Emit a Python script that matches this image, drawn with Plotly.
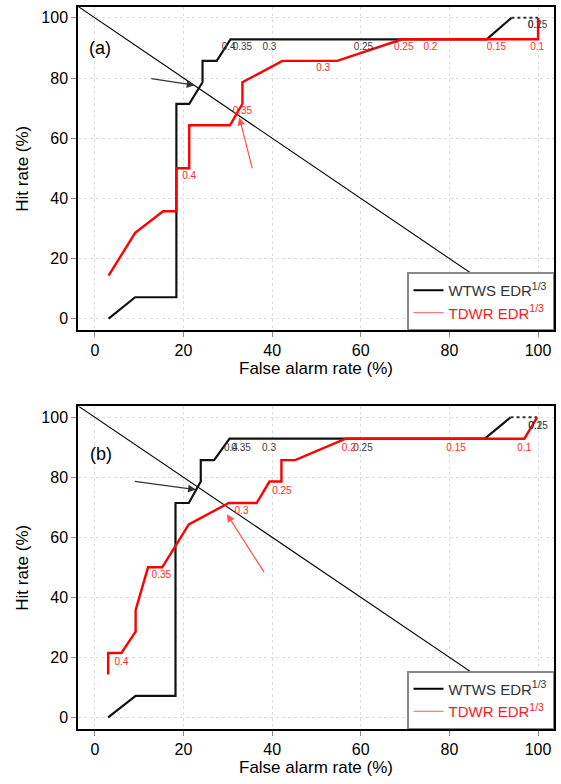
import plotly.graph_objects as go
from plotly.subplots import make_subplots

# ---------------- data: panel (a) ----------------
wtws_a_x = [3.1, 9.1, 18.4, 18.4, 21.3, 24.3, 24.3, 27.5, 30.6, 88.4, 94.0, 100.0]
wtws_a_y = [0, 7.14, 7.14, 71.43, 71.43, 78.57, 85.71, 85.71, 92.86, 92.86, 100, 100]
tdwr_a_x = [3.1, 9.1, 15.4, 18.4, 18.4, 21.3, 21.3, 30.5, 33.3, 33.3, 42.3, 54.7, 69.3, 100.0, 100.0]
tdwr_a_y = [14.29, 28.57, 35.71, 35.71, 50, 50, 64.29, 64.29, 71.43, 78.57, 85.71, 85.71, 92.86, 92.86, 100]

wtws_a_lbl = ["0.4", "0.35", "0.3", "0.25", "0.2", "0.15"]
wtws_a_lx = [30.2, 33.3, 39.4, 60.6, 99.3, 99.9]
wtws_a_ly = [90.2, 90.2, 90.2, 90.2, 97.3, 97.3]
tdwr_a_lbl = ["0.4", "0.35", "0.3", "0.25", "0.2", "0.15", "0.1"]
tdwr_a_lx = [21.3, 33.3, 51.5, 69.7, 75.7, 90.6, 99.8]
tdwr_a_ly = [47.3, 68.8, 83.0, 90.2, 90.2, 90.2, 90.2]

# arrows: [head_x, head_y, tail_x, tail_y]
arrow_wtws_a = [22.5, 77.6, 12.4, 79.9]
arrow_tdwr_a = [32.6, 66.9, 35.6, 49.5]

# ---------------- data: panel (b) ----------------
wtws_b_x = [3.0, 9.2, 18.2, 18.2, 21.2, 23.9, 23.9, 26.9, 30.4, 88.0, 93.8, 99.8]
wtws_b_y = [0, 7.14, 7.14, 71.43, 71.43, 78.57, 85.71, 85.71, 92.86, 92.86, 100, 100]
tdwr_b_x = [3.0, 3.0, 6.0, 9.2, 9.2, 12.0, 15.2, 21.2, 30.2, 36.5, 39.4, 42.1, 42.1, 45.2, 56.6, 96.9, 99.8]
tdwr_b_y = [14.29, 21.43, 21.43, 28.57, 35.71, 50, 50, 64.29, 71.43, 71.43, 78.57, 78.57, 85.71, 85.71, 92.86, 92.86, 100]

wtws_b_lbl = ["0.4", "0.35", "0.3", "0.25", "0.2", "0.15"]
wtws_b_lx = [30.7, 33.0, 39.3, 60.5, 99.4, 100.0]
wtws_b_ly = [89.6, 89.6, 89.6, 89.6, 97.0, 97.0]
tdwr_b_lbl = ["0.4", "0.35", "0.3", "0.25", "0.2", "0.15", "0.1"]
tdwr_b_lx = [6.0, 15.0, 33.1, 42.2, 57.3, 81.5, 96.9]
tdwr_b_ly = [18.4, 47.1, 68.7, 75.4, 89.6, 89.6, 89.6]

arrow_wtws_b = [22.8, 75.9, 8.65, 78.7]
arrow_tdwr_b = [29.8, 67.7, 38.4, 47.9]

# no-skill diagonal (hit rate = 100 - false alarm rate)
diag_x = [-4, 104]
diag_y = [100 - v for v in diag_x]

ticks = [0, 20, 40, 60, 80, 100]
panel_labels = ["(a)", "(b)"]
panel_label_pos = [(1.1, 90.1), (1.3, 87.7)]

BLACK = "#111111"
RED = "#ff0000"
FONT = "Liberation Sans, Arial, sans-serif"

fig = make_subplots(rows=2, cols=1, vertical_spacing=0.1)

panels = [
    (wtws_a_x, wtws_a_y, tdwr_a_x, tdwr_a_y, wtws_a_lbl, wtws_a_lx, wtws_a_ly,
     tdwr_a_lbl, tdwr_a_lx, tdwr_a_ly, arrow_wtws_a, arrow_tdwr_a),
    (wtws_b_x, wtws_b_y, tdwr_b_x, tdwr_b_y, wtws_b_lbl, wtws_b_lx, wtws_b_ly,
     tdwr_b_lbl, tdwr_b_lx, tdwr_b_ly, arrow_wtws_b, arrow_tdwr_b),
]

for i, p in enumerate(panels):
    row = i + 1
    (wx, wy, tx, ty, wl, wlx, wly, tl, tlx, tly, aw, at) = p
    leg = "legend" if i == 0 else "legend2"
    fig.add_trace(go.Scatter(x=diag_x, y=diag_y, mode="lines",
                             line=dict(color="black", width=1.1),
                             showlegend=False, hoverinfo="skip"), row=row, col=1)
    fig.add_trace(go.Scatter(x=wx[:-1], y=wy[:-1], mode="lines",
                             line=dict(color=BLACK, width=2.2),
                             showlegend=False), row=row, col=1)
    fig.add_trace(go.Scatter(x=wx[-2:], y=wy[-2:], mode="lines",
                             line=dict(color="#333333", width=2, dash="dot"),
                             showlegend=False), row=row, col=1)
    fig.add_trace(go.Scatter(x=tx, y=ty, mode="lines",
                             line=dict(color=RED, width=2.4),
                             showlegend=False), row=row, col=1)
    fig.add_trace(go.Scatter(x=wlx, y=wly, text=wl, mode="text",
                             textfont=dict(color="#3a3a3a", size=10, family=FONT),
                             showlegend=False), row=row, col=1)
    fig.add_trace(go.Scatter(x=tlx, y=tly, text=tl, mode="text",
                             textfont=dict(color="#ff2a2a", size=10, family=FONT),
                             showlegend=False), row=row, col=1)
    # legend entries
    fig.add_trace(go.Scatter(x=[None], y=[None], mode="lines",
                             line=dict(color="black", width=2),
                             name='<span style="color:#333333">WTWS EDR<sup>1/3</sup></span>',
                             legend=leg), row=row, col=1)
    fig.add_trace(go.Scatter(x=[None], y=[None], mode="lines",
                             line=dict(color="#ff5555", width=1),
                             name='<span style="color:#ff1a1a">TDWR EDR<sup>1/3</sup></span>',
                             legend=leg), row=row, col=1)
    xr = "x" if i == 0 else "x2"
    yr = "y" if i == 0 else "y2"
    fig.add_annotation(x=aw[0], y=aw[1], ax=aw[2], ay=aw[3], xref=xr, yref=yr,
                       axref=xr, ayref=yr, showarrow=True, arrowhead=2,
                       arrowsize=1.3, arrowwidth=1.2, arrowcolor="#333333", text="")
    fig.add_annotation(x=at[0], y=at[1], ax=at[2], ay=at[3], xref=xr, yref=yr,
                       axref=xr, ayref=yr, showarrow=True, arrowhead=2,
                       arrowsize=1.3, arrowwidth=1.2, arrowcolor="#ff5050", text="")
    fig.add_annotation(x=panel_label_pos[i][0], y=panel_label_pos[i][1],
                       xref=xr, yref=yr, text=panel_labels[i], showarrow=False,
                       font=dict(size=18, color="black", family=FONT))

axis_common = dict(
    showline=True, mirror=True, linecolor="black", linewidth=1.5,
    ticks="outside", ticklen=5, tickcolor="#888888", tickwidth=1,
    tickvals=ticks, tickfont=dict(size=16, color="black", family=FONT),
    showgrid=True, gridcolor="#dcdcdc", griddash="dot", gridwidth=1,
    zeroline=False,
)

for r in (1, 2):
    fig.update_xaxes(range=[-3.8, 103.6], title=dict(text="False alarm rate (%)",
                     font=dict(size=17, color="black", family=FONT), standoff=4),
                     row=r, col=1, **axis_common)
    fig.update_yaxes(range=[-3.9, 103.6], title=dict(text="Hit rate (%)",
                     font=dict(size=17, color="black", family=FONT), standoff=8),
                     row=r, col=1, **axis_common)

fig.update_layout(
    width=561, height=784,
    margin=dict(l=78, r=5, t=6, b=55),
    plot_bgcolor="white", paper_bgcolor="white",
    font=dict(family=FONT),
    xaxis=dict(domain=[0, 1]), xaxis2=dict(domain=[0, 1]),
    yaxis=dict(domain=[0.552, 1.0]), yaxis2=dict(domain=[0.0, 0.4467]),
    legend=dict(x=1, xanchor="right", y=0.552, yanchor="bottom",
                bgcolor="white", bordercolor="#888888", borderwidth=1.5,
                font=dict(size=15, family=FONT), tracegroupgap=0,
                itemwidth=30),
    legend2=dict(x=1, xanchor="right", y=0.0, yanchor="bottom",
                 bgcolor="white", bordercolor="#888888", borderwidth=1.5,
                 font=dict(size=15, family=FONT), tracegroupgap=0,
                 itemwidth=30),
)

fig.write_html("out.html")
